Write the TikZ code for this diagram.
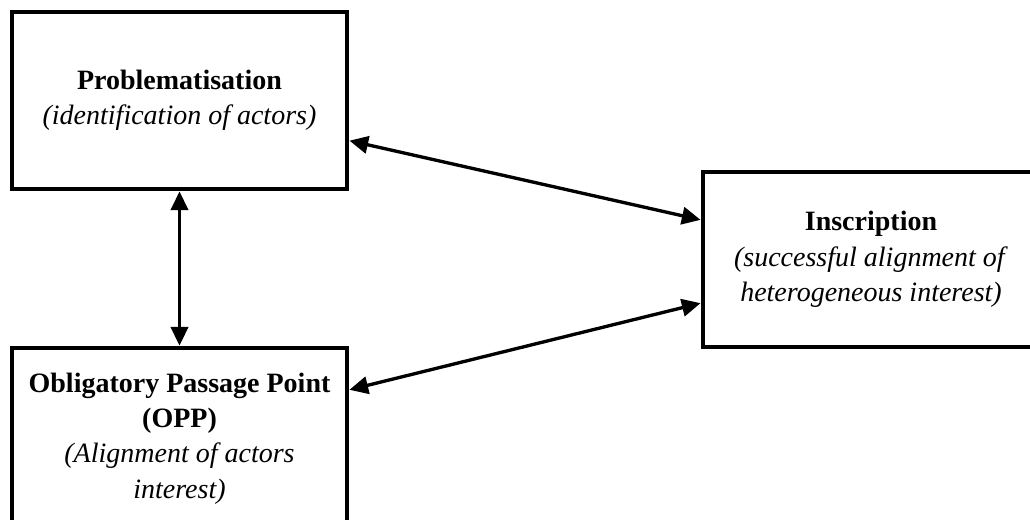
\documentclass[tikz,border=0pt]{standalone}
\usepackage{fontspec}
\setmainfont{Liberation Serif}
\usetikzlibrary{arrows.meta,shadows}
\begin{document}
\begin{tikzpicture}[x=0.75pt,y=-0.75pt,
  box/.style={draw=black, line width=2.5pt, fill=white, align=center,
    inner sep=0pt,
    font=\fontsize{21}{26.5}\selectfont,
    drop shadow={shadow xshift=1.2pt, shadow yshift=-1.2pt, fill=blue!25, opacity=0.35}},
  biarrow/.style={line width=2.5pt, {Triangle[length=14pt,width=13pt]}-{Triangle[length=14pt,width=13pt]}, shorten <=0.6pt, shorten >=0.6pt}
]
\useasboundingbox (0,0) rectangle (1030,519);
\begin{scope}
\clip (0,0) rectangle (1030,519);
\node[box, minimum width=251.25pt, minimum height=132.75pt] (prob) at (179.5,100.5)
  {\textbf{Problematisation}\\\textit{(identification of actors)}};
\node[box, minimum width=252pt, minimum height=131.25pt] (insc) at (871,259.5)
  {\textbf{Inscription}\\\textit{(successful alignment of}\\\textit{heterogeneous interest)}};
\node[box, minimum width=251.25pt, minimum height=135.75pt] (opp) at (179.5,438.5)
  {\textbf{Obligatory Passage Point}\\\textbf{(OPP)}\\\textit{(Alignment of actors}\\\textit{interest)}};
\end{scope}
\draw[biarrow] (prob.south) -- (opp.north);
\draw[biarrow] ([yshift=-30pt]prob.east) -- ([yshift=29.6pt]insc.west);
\draw[biarrow] ([yshift=36.4pt]opp.east) -- ([yshift=-32.6pt]insc.west);
\end{tikzpicture}
\end{document}
